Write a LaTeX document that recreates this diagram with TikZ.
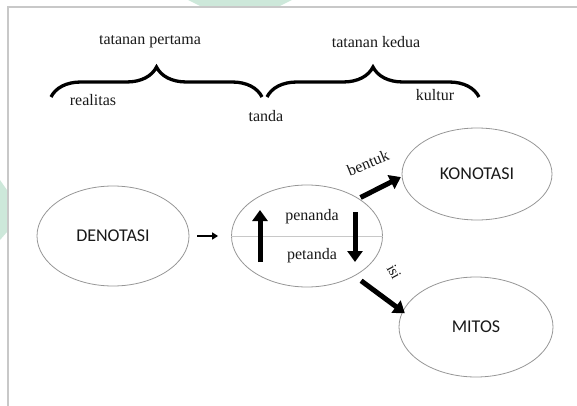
\documentclass[tikz,border=0pt]{standalone}
\usepackage{fontspec}
\setmainfont{Liberation Serif}
\newfontfamily\capfont{Carlito}
\usetikzlibrary{arrows.meta,decorations.pathreplacing,shapes.geometric,calc}
\definecolor{framegray}{RGB}{200,200,200}
\definecolor{ovalgray}{RGB}{150,150,150}
\definecolor{wmgreen}{RGB}{205,232,218}
\definecolor{inkk}{RGB}{25,25,25}
\tikzset{
  oval/.style={ellipse, draw=ovalgray, line width=0.8pt, inner sep=0pt, text=inkk, font=\capfont\fontsize{18}{20}\selectfont},
  lbl/.style={font=\fontsize{16}{18}\selectfont, inner sep=0pt, text=inkk},
  bigbrace/.style={decorate, decoration={brace, amplitude=30pt}, line width=3.3pt},
  fatarrow/.style={line width=5pt, -{Triangle[length=11pt,width=15pt]}},
  thinarrow/.style={line width=2pt, -{Triangle[length=6pt,width=7pt]}}
}
\begin{document}
\begin{tikzpicture}[x=1pt,y=1pt]
\useasboundingbox (0,0) rectangle (577,-406);
% watermark fragments
\fill[wmgreen] (188,0) -- (292,0) -- (280,-6) -- (200,-6) -- cycle;
\fill[wmgreen] (0,-180) -- (7,-190) -- (7,-232) -- (0,-240) -- cycle;
% frame
\draw[framegray, line width=2pt] (8,-406) -- (8,-7.5) -- (577,-7.5);
% top labels
\node[lbl] (t1) at (150,-42) {tatanan pertama};
\node[lbl] (t2) at (376,-42) {tatanan kedua};
\coordinate (b1s) at (51,-97);
\coordinate (b1e) at (262,-97);
\coordinate (b2s) at (267,-97);
\coordinate (b2e) at (479,-97);
\draw[bigbrace] (b1s) -- (b1e);
\draw[bigbrace] (b2s) -- (b2e);
\node[lbl] (real) at (93,-100) {realitas};
\node[lbl] (tanda) at (266,-116) {tanda};
\node[lbl] (kult) at (435,-95) {kultur};
% ovals
\node[oval, minimum width=152pt, minimum height=100pt] (den) at (113,-236) {DENOTASI};
\node[oval, minimum width=151pt, minimum height=102pt] (tel) at (307,-236) {};
\node[oval, minimum width=150pt, minimum height=92pt] (kon) at (477,-174) {KONOTASI};
\node[oval, minimum width=154pt, minimum height=100pt] (mit) at (476,-327) {MITOS};
\draw[framegray, line width=0.8pt] (tel.west) -- (tel.east);
\node[lbl] (pen) at (312,-217) {penanda};
\node[lbl] (pet) at (312,-256) {petanda};
% arrows
\draw[thinarrow, shorten <=8pt, shorten >=13pt] (den.east) -- (tel.west);
\draw[fatarrow] ($(tel.center)+(-47,-26)$) -- ($(tel.center)+(-47,26)$);
\draw[fatarrow] ($(tel.center)+(48,24)$) -- ($(tel.center)+(48,-26)$);
\draw[fatarrow, shorten <=2pt, shorten >=1pt] (tel.36) -- (kon.182);
\draw[fatarrow, shorten <=8pt, shorten >=-3pt] (tel.-40) -- (mit.168);
\node[lbl, rotate=22] (bent) at (368,-163) {bentuk};
\node[lbl, rotate=-62, font=\fontsize{15}{17}\selectfont] (isi) at (394,-272) {isi};
\end{tikzpicture}
\end{document}
